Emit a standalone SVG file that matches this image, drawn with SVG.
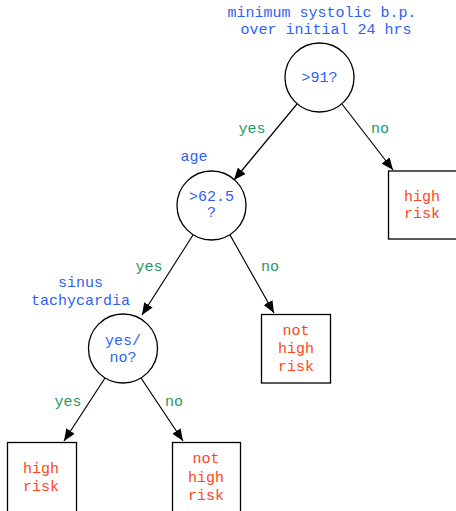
<svg xmlns="http://www.w3.org/2000/svg" width="456" height="511" viewBox="0 0 456 511">
  <style>
    text { font-family: "Liberation Mono", "Courier New", monospace; font-size: 15px; text-anchor: middle; }
    .q { fill: #2f5ff5; }
    .yes, .no { fill: #1f9960; }
    .risk { fill: #ff4422; }
    .decision { fill: #ffffff; stroke: #000000; stroke-width: 1.3; }
    .leaf { fill: #ffffff; stroke: #000000; stroke-width: 1.3; }
    .edge { stroke: #000000; stroke-width: 1.2; fill: none; marker-end: url(#arrow); }
  </style>
  <defs>
    <marker id="arrow" viewBox="0 0 12 10" refX="12" refY="5" markerWidth="12" markerHeight="10" markerUnits="userSpaceOnUse" orient="auto">
      <path d="M0,0 L12,5 L0,10 Z" fill="#000000"/>
    </marker>
  </defs>

  <rect width="456" height="511" fill="#ffffff"/>

  <g id="connectors">
    <line class="edge" x1="297" y1="104" x2="234" y2="180"/>
    <line class="edge" x1="342" y1="104" x2="393" y2="170"/>
    <line class="edge" x1="193" y1="235" x2="142" y2="315"/>
    <line class="edge" x1="230" y1="235" x2="274" y2="313"/>
    <line class="edge" x1="105" y1="378" x2="64" y2="441"/>
    <line class="edge" x1="141" y1="378" x2="183" y2="441"/>
    <text class="yes" x="252" y="133">yes</text>
    <text class="no" x="380" y="133">no</text>
    <text class="yes" x="149" y="271">yes</text>
    <text class="no" x="270" y="271">no</text>
    <text class="yes" x="68" y="406">yes</text>
    <text class="no" x="174" y="406">no</text>
  </g>

  <g id="node-bp">
    <text class="q" x="322" y="17">minimum systolic b.p.</text>
    <text class="q" x="326" y="34">over initial 24 hrs</text>
    <circle class="decision" cx="319.5" cy="77.5" r="34.5"/>
    <text class="q" x="319.5" y="82">&gt;91?</text>
  </g>

  <g id="node-age">
    <text class="q" x="194" y="161">age</text>
    <circle class="decision" cx="211.5" cy="205.5" r="34.5"/>
    <text class="q" x="211.5" y="201">&gt;62.5</text>
    <text class="q" x="211.5" y="217">?</text>
  </g>

  <g id="node-sinus">
    <text class="q" x="80.5" y="287">sinus</text>
    <text class="q" x="80.5" y="305">tachycardia</text>
    <circle class="decision" cx="123" cy="348.5" r="34.5"/>
    <text class="q" x="123" y="345">yes/</text>
    <text class="q" x="123" y="362">no?</text>
  </g>

  <g id="leaf-bp-no">
    <rect class="leaf" x="388.5" y="171" width="70" height="68"/>
    <text class="risk" x="422" y="201">high</text>
    <text class="risk" x="422" y="218">risk</text>
  </g>

  <g id="leaf-age-no">
    <rect class="leaf" x="261.5" y="314.5" width="69" height="68.5"/>
    <text class="risk" x="296" y="335">not</text>
    <text class="risk" x="296" y="353">high</text>
    <text class="risk" x="296" y="371">risk</text>
  </g>

  <g id="leaf-sinus-yes">
    <rect class="leaf" x="7.5" y="442.5" width="69" height="72"/>
    <text class="risk" x="41" y="473">high</text>
    <text class="risk" x="41" y="491">risk</text>
  </g>

  <g id="leaf-sinus-no">
    <rect class="leaf" x="172.5" y="442.5" width="68" height="72"/>
    <text class="risk" x="206" y="463">not</text>
    <text class="risk" x="206" y="482">high</text>
    <text class="risk" x="206" y="500">risk</text>
  </g>
</svg>
